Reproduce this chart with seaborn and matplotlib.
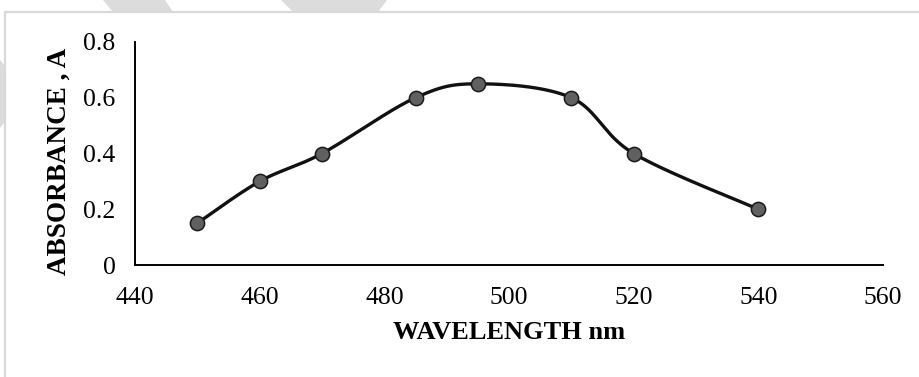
import numpy as np
import pandas as pd
import matplotlib
matplotlib.use("Agg")
import matplotlib.pyplot as plt
from matplotlib.patches import Polygon
from matplotlib.lines import Line2D
import seaborn as sns

# ---- data ----
wavelength = [450, 460, 470, 485, 495, 510, 520, 540]
absorbance = [0.15, 0.30, 0.40, 0.60, 0.65, 0.60, 0.40, 0.20]
x_ticks = [440, 460, 480, 500, 520, 540, 560]
y_ticks = [0, 0.2, 0.4, 0.6, 0.8]
y_tick_labels = ["0", "0.2", "0.4", "0.6", "0.8"]
x_label = "WAVELENGTH nm"
y_label = "ABSORBANCE , A"

sns.set_theme(style="white")
plt.rcParams["font.family"] = ["Liberation Serif", "DejaVu Serif"]


def excel_smooth(xs, ys, n=40):
    """Excel-style smoothed line: cubic Bezier segments, Catmull-Rom control points."""
    P = np.column_stack([xs, ys]).astype(float)
    m = len(P)
    out = []
    for i in range(m - 1):
        p0 = P[i - 1] if i > 0 else P[i]
        p1 = P[i]
        p2 = P[i + 1]
        p3 = P[i + 2] if i + 2 < m else P[i + 1]
        c1 = p1 + (p2 - p0) / 6.0
        c2 = p2 - (p3 - p1) / 6.0
        t = np.linspace(0, 1, n)[:, None]
        seg = ((1 - t) ** 3) * p1 + 3 * ((1 - t) ** 2) * t * c1 + 3 * (1 - t) * t ** 2 * c2 + t ** 3 * p2
        if i > 0:
            seg = seg[1:]
        out.append(seg)
    out = np.vstack(out)
    return out[:, 0], out[:, 1]


cx, cy = excel_smooth(wavelength, absorbance)
curve = pd.DataFrame({"wavelength": cx, "absorbance": cy})
points = pd.DataFrame({"wavelength": wavelength, "absorbance": absorbance})

W, H = 919, 377
fig = plt.figure(figsize=(W / 100, H / 100), dpi=100)
fig.patch.set_facecolor("white")

# faint watermark stripes and page border (pixel coords -> figure coords)
def fp(pts):
    return [(x / W, 1 - y / H) for x, y in pts]

stripe_color = "#dcdcdc"
for poly in ([(103, 0), (165, 0), (173, 12), (113, 12)],
             [(281, 0), (387, 0), (378, 12), (293, 12)],
             [(0, 60), (5, 66), (5, 122), (0, 128)]):
    fig.patches.append(Polygon(fp(poly), closed=True, transform=fig.transFigure,
                               facecolor=stripe_color, edgecolor="none", zorder=0))
fig.lines.append(Line2D([5 / W, 1], [1 - 12 / H, 1 - 12 / H], transform=fig.transFigure,
                        color="#d9d9d9", lw=1.6, zorder=1))
fig.lines.append(Line2D([5 / W, 5 / W], [0, 1 - 12 / H], transform=fig.transFigure,
                        color="#d9d9d9", lw=1.6, zorder=1))

left, right = 135 / W, 883 / W
bottom, top = 1 - 265 / H, 1 - 42 / H
ax = fig.add_axes([left, bottom, right - left, top - bottom])
ax.set_facecolor("none")

sns.lineplot(data=curve, x="wavelength", y="absorbance", sort=False, estimator=None,
             color="#111111", lw=2.4, ax=ax, zorder=2)
sns.scatterplot(data=points, x="wavelength", y="absorbance", s=105, color="#606060",
                edgecolor="#1a1a1a", linewidth=1.1, ax=ax, zorder=3, clip_on=False)

ax.set_xlim(440, 560)
ax.set_ylim(0, 0.8)
ax.set_xticks(x_ticks)
ax.set_xticklabels([str(v) for v in x_ticks])
ax.set_yticks(y_ticks)
ax.set_yticklabels(y_tick_labels)
ax.tick_params(axis="both", length=0, labelsize=18.5, colors="black")
ax.tick_params(axis="x", pad=16)
ax.tick_params(axis="y", pad=14)

for side in ["top", "right"]:
    ax.spines[side].set_visible(False)
for side in ["left", "bottom"]:
    ax.spines[side].set_color("black")
    ax.spines[side].set_linewidth(1.4)

ax.set_xlabel(x_label, fontsize=19, fontweight="bold", color="black")
ax.set_ylabel(y_label, fontsize=19.5, fontweight="bold", color="black")
# label positions in pixel terms relative to the axes
ax_w, ax_h = 883 - 135, 265 - 42
ax.xaxis.set_label_coords(0.5, -(321 - 265) / ax_h, transform=ax.transAxes)
ax.yaxis.set_label_coords(-(135 - 72) / ax_w, (265 - 161) / ax_h, transform=ax.transAxes)
ax.grid(False)

fig.savefig("out.png", dpi=100, facecolor="white")
